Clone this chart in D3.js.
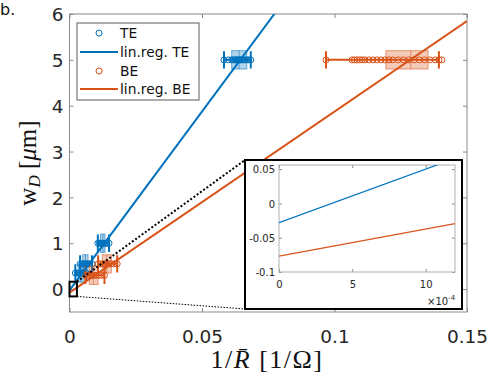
<!DOCTYPE html>
<html><head><meta charset="utf-8">
<script src="https://cdn.jsdelivr.net/npm/d3@7/dist/d3.min.js"></script>
<style>body{margin:0;background:#fff}svg{display:block}</style>
</head><body>
<svg id="c" width="491" height="379"></svg>
<script>
// ---- data ----
const xTicks = [0, 0.05, 0.1, 0.15];
const xTickLabels = ["0", "0.05", "0.1", "0.15"];
const yTicks = [0, 1, 2, 3, 4, 5, 6];
const yTickLabels = ["0", "1", "2", "3", "4", "5", "6"];
const insetXTicks = [0, 0.0005, 0.001];
const insetXTickLabels = ["0", "5", "10"];
const insetYTicks = [-0.1, -0.05, 0, 0.05];
const insetYTickLabels = ["-0.1", "-0.05", "0", "0.05"];
const seriesNames = ["TE", "BE"];
const legendLabels = ["TE", "lin.reg. TE", "BE", "lin.reg. BE"];
// linear regression: intercept, slope
const regIntercept = [-0.028, -0.077];
const regSlope = [78, 39.5];
// measurement levels (w_D) per series
const teLevels = [0.35, 0.55, 1.0, 5.0];
const beLevels = [0.3, 0.55, 5.0];
// individual measurements (1/R) per level
const teValues = [
  [0.0022, 0.0030, 0.0036, 0.0041, 0.0046, 0.0050, 0.0055, 0.0062],
  [0.0040, 0.0047, 0.0053, 0.0058, 0.0063, 0.0068, 0.0075, 0.0085],
  [0.0107, 0.0113, 0.0118, 0.0122, 0.0126, 0.0130, 0.0135, 0.0141, 0.0149],
  [0.0583, 0.0600, 0.0612, 0.0618, 0.0625, 0.0630, 0.0636, 0.0640, 0.0645, 0.0650, 0.0656, 0.0662, 0.0669, 0.0676, 0.0684]
];
const beValues = [
  [0.0060, 0.0070, 0.0078, 0.0085, 0.0092, 0.0100, 0.0110, 0.0120, 0.0132],
  [0.0108, 0.0118, 0.0126, 0.0133, 0.0140, 0.0148, 0.0157, 0.0168, 0.0180],
  [0.0968, 0.1066, 0.1075, 0.1085, 0.1095, 0.1105, 0.1115, 0.1130, 0.1145, 0.1160, 0.1175, 0.1190, 0.1205, 0.1220, 0.1240, 0.1260, 0.1280, 0.1300, 0.1320, 0.1340, 0.1360, 0.1380, 0.1394, 0.1405]
];
// box stats [lowWhisker, q1, median, q3, highWhisker]
const teBoxes = [
  [0.0022, 0.0033, 0.0043, 0.0052, 0.0062],
  [0.0040, 0.0050, 0.0060, 0.0070, 0.0085],
  [0.0107, 0.0117, 0.0126, 0.0134, 0.0149],
  [0.0583, 0.0612, 0.0640, 0.0669, 0.0684]
];
const beBoxes = [
  [0.0060, 0.0075, 0.0090, 0.0108, 0.0132],
  [0.0108, 0.0124, 0.0140, 0.0158, 0.0180],
  [0.0968, 0.1194, 0.1288, 0.1353, 0.1394]
];
// zoom window shown in inset [x0, x1, y0, y1]
const zoomWindow = [0, 0.0028, -0.16, 0.16];

// ---- drawing ----
const colors = ["#0072BD", "#D95319"];
const svg = d3.select("#c");
const x = d3.scaleLinear([0, 0.15], [69.5, 467]);
const y = d3.scaleLinear([-0.5, 6], [312, 14]);
const FONT = "DejaVu Sans, sans-serif";
const TXT = "#262626";

svg.append("text").attr("x", 0).attr("y", 15).attr("font-family", FONT)
  .attr("font-size", 16).attr("fill", "#111").text("b.");

svg.append("defs").append("clipPath").attr("id", "pc").append("rect")
  .attr("x", x(0)).attr("y", y(6)).attr("width", x(0.15) - x(0)).attr("height", y(-0.5) - y(6));

const axisColor = "#8a8a8a";
// ticks and box
const gAx = svg.append("g");
gAx.append("g").attr("transform", `translate(0,${y(-0.5)})`)
  .call(d3.axisBottom(x).tickValues(xTicks).tickSize(-4).tickFormat((d, i) => xTickLabels[i]))
  .call(g => { g.select(".domain").remove(); g.selectAll("line").attr("stroke", axisColor);
    g.selectAll("text").attr("font-family", FONT).attr("font-size", 18.5).attr("fill", TXT).attr("dy", 0).attr("y", 31); });
gAx.append("g").attr("transform", `translate(0,${y(6)})`)
  .call(d3.axisTop(x).tickValues(xTicks).tickSize(-4).tickFormat(""))
  .call(g => { g.select(".domain").remove(); g.selectAll("line").attr("stroke", axisColor); });
gAx.append("g").attr("transform", `translate(${x(0)},0)`)
  .call(d3.axisLeft(y).tickValues(yTicks).tickSize(-4).tickFormat((d, i) => yTickLabels[i]))
  .call(g => { g.select(".domain").remove(); g.selectAll("line").attr("stroke", axisColor);
    g.selectAll("text").attr("font-family", FONT).attr("font-size", 18.5).attr("fill", TXT).attr("x", -6).attr("dy", "0.36em"); });
gAx.append("g").attr("transform", `translate(${x(0.15)},0)`)
  .call(d3.axisRight(y).tickValues(yTicks).tickSize(-4).tickFormat(""))
  .call(g => { g.select(".domain").remove(); g.selectAll("line").attr("stroke", axisColor); });
gAx.append("rect").attr("x", x(0)).attr("y", y(6)).attr("width", x(0.15) - x(0)).attr("height", y(-0.5) - y(6))
  .attr("fill", "none").attr("stroke", axisColor).attr("stroke-width", 1);

// clusters
const plot = svg.append("g").attr("clip-path", "url(#pc)");
function cluster(lvl, vals, st, col) {
  const g = plot.append("g");
  const h = 0.2;
  g.append("line").attr("x1", x(st[0])).attr("x2", x(st[4])).attr("y1", y(lvl)).attr("y2", y(lvl))
    .attr("stroke", col).attr("stroke-width", 2);
  g.append("rect").attr("x", x(st[1])).attr("width", x(st[3]) - x(st[1]))
    .attr("y", y(lvl + h)).attr("height", y(lvl - h) - y(lvl + h))
    .attr("fill", col).attr("fill-opacity", 0.3).attr("stroke", col).attr("stroke-opacity", 0.55);
  g.append("line").attr("x1", x(st[2])).attr("x2", x(st[2])).attr("y1", y(lvl + h)).attr("y2", y(lvl - h))
    .attr("stroke", col).attr("stroke-opacity", 0.55);
  [st[0], st[4]].forEach(v => g.append("line").attr("x1", x(v)).attr("x2", x(v))
    .attr("y1", y(lvl + 0.19)).attr("y2", y(lvl - 0.19)).attr("stroke", col).attr("stroke-width", 2));
  g.selectAll("circle.p").data(vals).join("circle").attr("class", "p")
    .attr("cx", d => x(d)).attr("cy", y(lvl)).attr("r", 3)
    .attr("fill", "none").attr("stroke", col).attr("stroke-width", 1);
}
teLevels.forEach((l, i) => cluster(l, teValues[i], teBoxes[i], colors[0]));
beLevels.forEach((l, i) => cluster(l, beValues[i], beBoxes[i], colors[1]));

// regression lines
[0, 1].forEach(s => {
  plot.append("line").attr("x1", x(0)).attr("y1", y(regIntercept[s]))
    .attr("x2", x(0.15)).attr("y2", y(regIntercept[s] + regSlope[s] * 0.15))
    .attr("stroke", colors[s]).attr("stroke-width", 2);
});

// legend
const lg = svg.append("g");
lg.append("rect").attr("x", 77).attr("y", 23).attr("width", 122).attr("height", 77)
  .attr("fill", "#fff").attr("stroke", "#5a5a5a").attr("stroke-width", 1);
const ly = [33, 52, 71, 89];
legendLabels.forEach((t, i) => {
  const col = colors[Math.floor(i / 2)];
  if (i % 2 === 0) lg.append("circle").attr("cx", 99).attr("cy", ly[i]).attr("r", 3)
    .attr("fill", "none").attr("stroke", col).attr("stroke-width", 1);
  else lg.append("line").attr("x1", 80).attr("x2", 118).attr("y1", ly[i]).attr("y2", ly[i])
    .attr("stroke", col).attr("stroke-width", 2);
  lg.append("text").attr("x", 120).attr("y", ly[i] + 5).attr("font-family", FONT)
    .attr("font-size", 13.8).attr("fill", "#111").text(t);
});

// zoom window + connectors
const zx0 = x(zoomWindow[0]), zx1 = x(zoomWindow[1]), zy0 = y(zoomWindow[3]), zy1 = y(zoomWindow[2]);
const inset = {x: 245, y: 160, w: 217, h: 149};
svg.append("line").attr("x1", zx1).attr("y1", zy0).attr("x2", inset.x).attr("y2", inset.y)
  .attr("stroke", "#000").attr("stroke-width", 2).attr("stroke-dasharray", "2,2");
svg.append("line").attr("x1", zx1).attr("y1", zy1).attr("x2", inset.x).attr("y2", inset.y + inset.h)
  .attr("stroke", "#000").attr("stroke-width", 1).attr("stroke-dasharray", "1.5,1.5");
svg.append("rect").attr("x", zx0).attr("y", zy0).attr("width", zx1 - zx0).attr("height", zy1 - zy0)
  .attr("fill", "none").attr("stroke", "#000").attr("stroke-width", 2);

// inset
const ig = svg.append("g");
ig.append("rect").attr("x", inset.x).attr("y", inset.y).attr("width", inset.w).attr("height", inset.h)
  .attr("fill", "#fff").attr("stroke", "#000").attr("stroke-width", 2);
const ix = d3.scaleLinear([0, 0.0012], [279, 455]);
const iy = d3.scaleLinear([-0.1, 0.056], [272, 165]);
svg.select("defs").append("clipPath").attr("id", "ic").append("rect")
  .attr("x", 279).attr("y", 165).attr("width", 176).attr("height", 107);
const IF = 10;
ig.append("g").attr("transform", "translate(0,272)")
  .call(d3.axisBottom(ix).tickValues(insetXTicks).tickSize(-3).tickFormat((d, i) => insetXTickLabels[i]))
  .call(g => { g.select(".domain").remove(); g.selectAll("line").attr("stroke", axisColor);
    g.selectAll("text").attr("font-family", FONT).attr("font-size", IF).attr("fill", TXT).attr("dy", 0).attr("y", 16); });
ig.append("g").attr("transform", "translate(0,165)")
  .call(d3.axisTop(ix).tickValues(insetXTicks).tickSize(-3).tickFormat(""))
  .call(g => { g.select(".domain").remove(); g.selectAll("line").attr("stroke", axisColor); });
ig.append("g").attr("transform", "translate(279,0)")
  .call(d3.axisLeft(iy).tickValues(insetYTicks).tickSize(-3).tickFormat((d, i) => insetYTickLabels[i]))
  .call(g => { g.select(".domain").remove(); g.selectAll("line").attr("stroke", axisColor);
    g.selectAll("text").attr("font-family", FONT).attr("font-size", IF).attr("fill", TXT).attr("x", -4).attr("dy", "0.36em"); });
ig.append("g").attr("transform", "translate(455,0)")
  .call(d3.axisRight(iy).tickValues(insetYTicks).tickSize(-3).tickFormat(""))
  .call(g => { g.select(".domain").remove(); g.selectAll("line").attr("stroke", axisColor); });
ig.append("rect").attr("x", 279).attr("y", 165).attr("width", 176).attr("height", 107)
  .attr("fill", "none").attr("stroke", "#b0b0b0");
[0, 1].forEach(s => {
  ig.append("line").attr("clip-path", "url(#ic)").attr("x1", ix(0)).attr("y1", iy(regIntercept[s]))
    .attr("x2", ix(0.0012)).attr("y2", iy(regIntercept[s] + regSlope[s] * 0.0012))
    .attr("stroke", colors[s]).attr("stroke-width", 1.2);
});
const ex = ig.append("text").attr("x", 427).attr("y", 305).attr("font-family", FONT)
  .attr("font-size", IF).attr("fill", TXT);
ex.append("tspan").text("\u00d710");
ex.append("tspan").attr("dy", -5).attr("font-size", 7).text("-4");

// axis labels
const xl = svg.append("text").attr("x", 267).attr("y", 368).attr("text-anchor", "middle")
  .attr("font-family", "Liberation Serif, serif").attr("font-size", 26).attr("letter-spacing", 1.5).attr("fill", "#111");
xl.append("tspan").text("1/");
xl.append("tspan").attr("font-style", "italic").text("R\u0304");
xl.append("tspan").text(" [1/\u03a9]");

const yl = svg.append("text").attr("transform", "translate(36,163) rotate(-90)").attr("text-anchor", "middle")
  .attr("font-family", "Liberation Serif, serif").attr("font-size", 25).attr("fill", "#111");
yl.append("tspan").text("w");
yl.append("tspan").attr("font-style", "italic").attr("font-size", 17).attr("dy", 4).text("D");
yl.append("tspan").attr("dy", -4).text(" [");
yl.append("tspan").attr("font-style", "italic").text("\u03bc");
yl.append("tspan").text("m]");
</script>
</body></html>
